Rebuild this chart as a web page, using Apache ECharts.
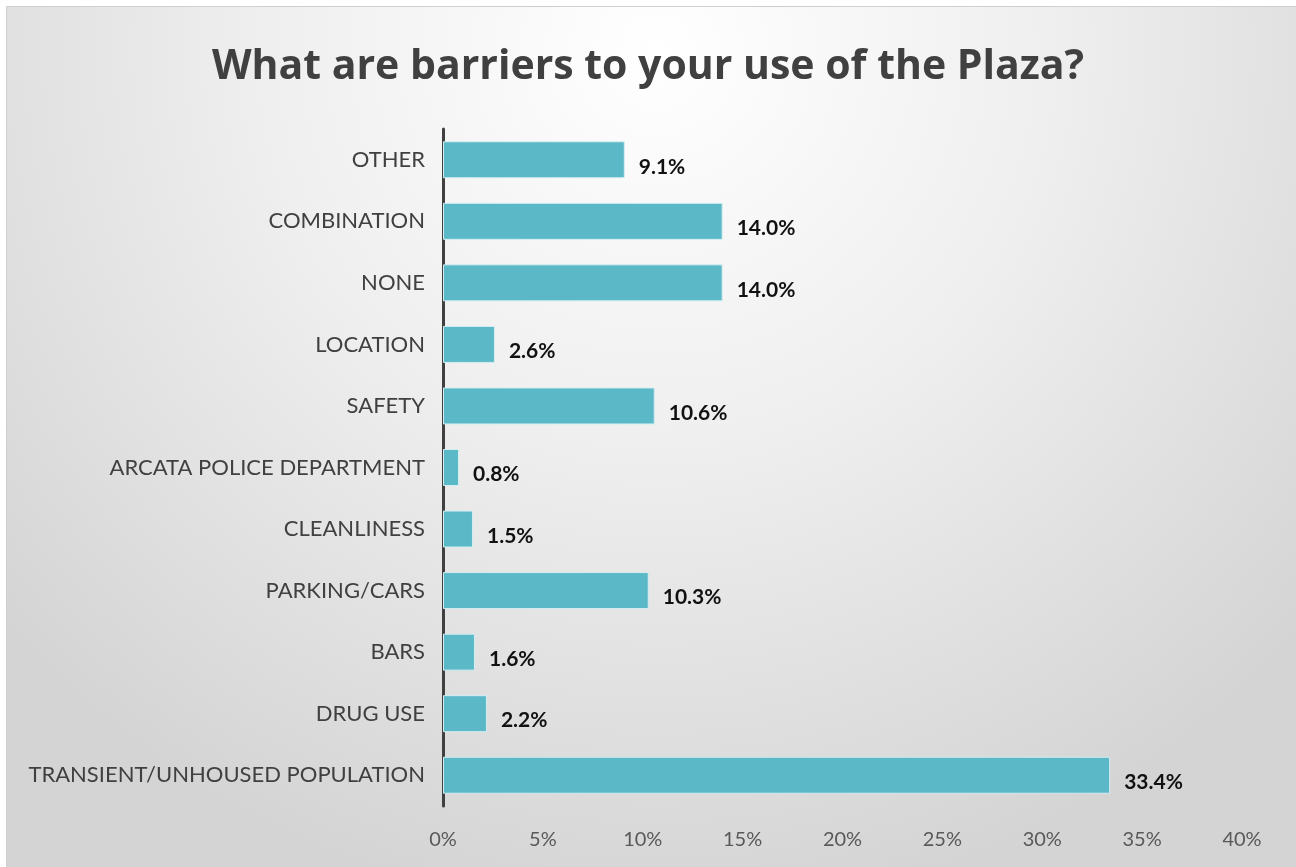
<!DOCTYPE html>
<html>
<head>
<meta charset="utf-8">
<script src="https://cdn.jsdelivr.net/npm/echarts@6/dist/echarts.min.js"></script>
<style>
  html, body { margin: 0; padding: 0; background: #fff; }
  #chart { width: 1296px; height: 867px; }
</style>
</head>
<body>
<div id="chart"></div>
<script>
// categories from bottom to top (category axis draws first item at bottom)
let categories = ['TRANSIENT/UNHOUSED POPULATION', 'DRUG USE', 'BARS', 'PARKING/CARS',
  'CLEANLINESS', 'ARCATA POLICE DEPARTMENT', 'SAFETY', 'LOCATION', 'NONE', 'COMBINATION', 'OTHER']
let shares = [33.4, 2.2, 1.6, 10.3, 1.5, 0.8, 10.6, 2.6, 14.0, 14.0, 9.1]
let xTicks = [0, 5, 10, 15, 20, 25, 30, 35, 40]

let chart = echarts.init(document.getElementById('chart'))

chart.setOption({
    backgroundColor: '#fff',
    animation: false,
    graphic: [{
        type: 'rect',
        z: -10,
        silent: true,
        shape: {x: 6.5, y: 6.5, width: 1300, height: 870},
        style: {
            fill: {
                type: 'radial', x: 0.5, y: 0.05, r: 1.0,
                colorStops: [
                    {offset: 0, color: '#ffffff'},
                    {offset: 0.45, color: '#efefef'},
                    {offset: 1, color: '#d4d4d4'}
                ]
            },
            stroke: '#cfcfcf',
            lineWidth: 1
        }
    }],
    title: {
        text: 'What are barriers to your use of the Plaza?',
        left: 'center',
        top: 42,
        textStyle: {
            fontFamily: 'Open Sans',
            fontWeight: 'bold',
            fontSize: 41,
            color: '#404040'
        }
    },
    grid: {left: 443, right: 54, top: 129, bottom: 61},
    xAxis: {
        type: 'value',
        min: 0,
        max: 40,
        interval: 5,
        axisLine: {show: false},
        axisTick: {show: false},
        splitLine: {show: false},
        axisLabel: {
            margin: 24,
            fontFamily: 'Lato',
            fontSize: 20,
            color: '#595959',
            formatter: v => xTicks.includes(v) ? v + '%' : ''
        }
    },
    yAxis: {
        type: 'category',
        data: categories,
        axisLine: {show: true, lineStyle: {color: '#404040', width: 3}},
        axisTick: {show: false},
        axisLabel: {
            margin: 18,
            fontFamily: 'Lato',
            fontSize: 22,
            color: '#404040'
        }
    },
    series: [{
        type: 'bar',
        data: shares,
        barWidth: 37,
        itemStyle: {
            color: '#5bb8c6',
            borderColor: '#d5eef2',
            borderWidth: 1
        },
        label: {
            show: true,
            position: 'right',
            distance: 14,
            offset: [0, 7],
            fontFamily: 'Lato',
            fontWeight: 'bold',
            fontSize: 21,
            color: '#111',
            formatter: p => p.value.toFixed(1) + '%'
        }
    }]
})
</script>
</body>
</html>
